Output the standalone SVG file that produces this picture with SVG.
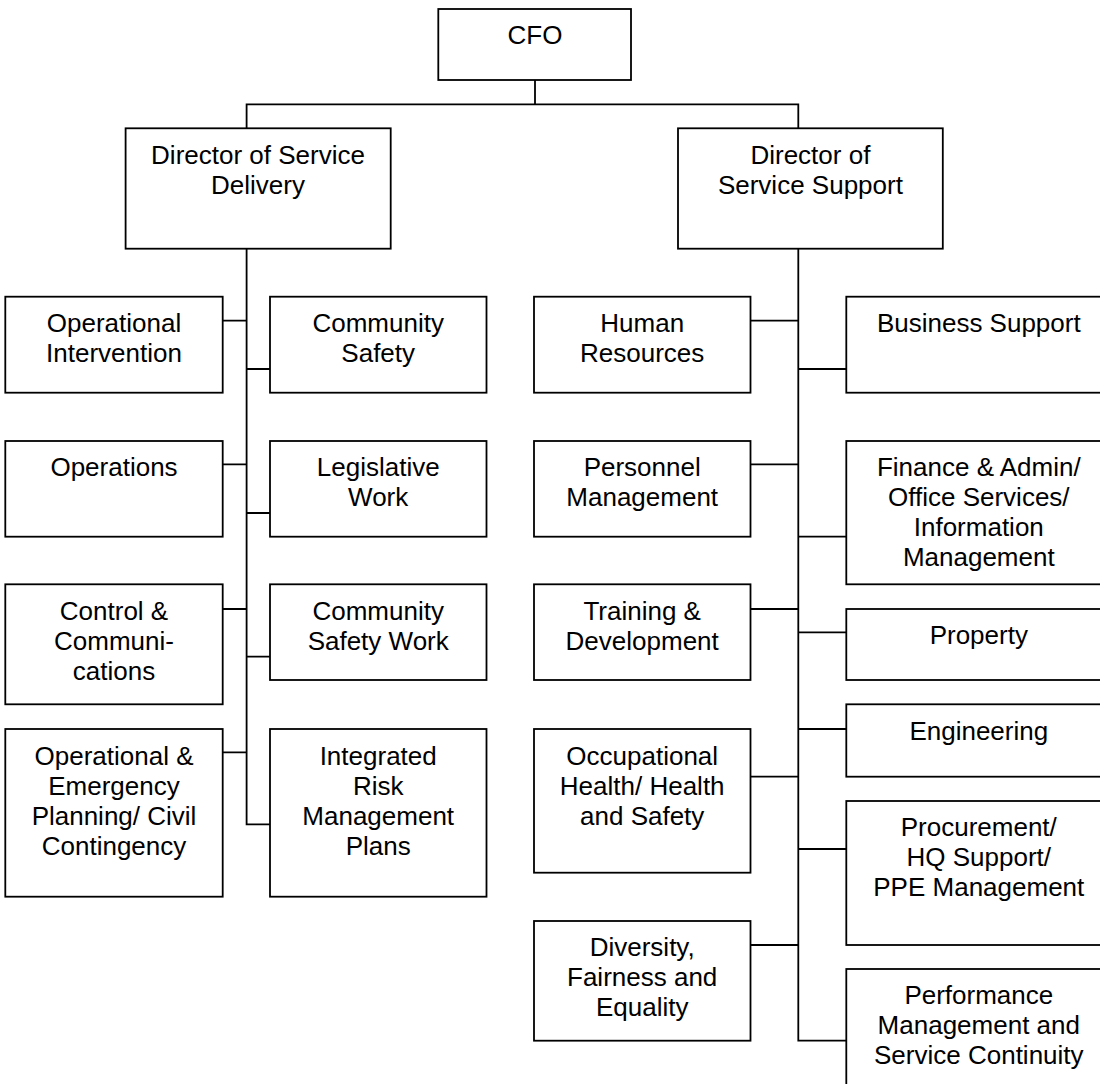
<svg xmlns="http://www.w3.org/2000/svg" width="1100" height="1084" viewBox="0 0 1100 1084">
<style>
.box{fill:#fff;stroke:#000;stroke-width:1.8}
.lbl{font-family:"Liberation Sans",Arial,sans-serif;font-size:26px;fill:#000;text-anchor:middle}
.con{fill:none;stroke:#000;stroke-width:1.8;stroke-linejoin:miter;stroke-linecap:square}
</style>
<rect width="1100" height="1084" fill="#fff"/>
<g id="connectors">
<path class="con" d="M535,80 V104.3 M246.6,128.3 V104.3 H798.3 V128.3"/>
<path class="con" d="M246.6,248.7 V824.3 H270 M222.7,320.7 H246.6 M246.6,369 H270 M222.7,464.3 H246.6 M246.6,513 H270 M222.7,609 H246.6 M246.6,656.7 H270 M222.7,752.3 H246.6"/>
<path class="con" d="M798.3,248.7 V1040.7 H846.3 M750.5,320.7 H798.3 M798.3,369 H846.3 M750.5,464.3 H798.3 M798.3,536.7 H846.3 M750.5,609 H798.3 M798.3,632.3 H846.3 M798.3,729 H846.3 M750.5,776.7 H798.3 M798.3,849 H846.3 M750.5,945 H798.3"/>
</g>
<g id="cfo"><rect class="box" x="438.3" y="9" width="192.7" height="71"/><text class="lbl" x="535" y="43.5">CFO</text></g>
<g id="dsd"><rect class="box" x="125.6" y="128.3" width="265.1" height="120.4"/><text class="lbl" x="258" y="164"><tspan x="258">Director of Service</tspan><tspan x="258" dy="30">Delivery</tspan></text></g>
<g id="dss"><rect class="box" x="678" y="128.3" width="264.8" height="120.4"/><text class="lbl" x="810.4" y="164"><tspan x="810.4">Director of</tspan><tspan x="810.4" dy="30">Service Support</tspan></text></g>

<g id="op-intervention"><rect class="box" x="5.3" y="296.7" width="217.4" height="96"/><text class="lbl" y="332"><tspan x="114">Operational</tspan><tspan x="114" dy="30">Intervention</tspan></text></g>
<g id="operations"><rect class="box" x="5.3" y="441" width="217.4" height="95.7"/><text class="lbl" y="476"><tspan x="114">Operations</tspan></text></g>
<g id="control-comms"><rect class="box" x="5.3" y="584.3" width="217.4" height="120"/><text class="lbl" y="619.5"><tspan x="114">Control &amp;</tspan><tspan x="114" dy="30">Communi-</tspan><tspan x="114" dy="30">cations</tspan></text></g>
<g id="op-emergency"><rect class="box" x="5.3" y="729" width="217.4" height="167.7"/><text class="lbl" y="764.5"><tspan x="114">Operational &amp;</tspan><tspan x="114" dy="30">Emergency</tspan><tspan x="114" dy="30">Planning/ Civil</tspan><tspan x="114" dy="30">Contingency</tspan></text></g>

<g id="community-safety"><rect class="box" x="270" y="296.7" width="216.5" height="96"/><text class="lbl" y="332"><tspan x="378.2">Community</tspan><tspan x="378.2" dy="30">Safety</tspan></text></g>
<g id="legislative-work"><rect class="box" x="270" y="441" width="216.5" height="95.7"/><text class="lbl" y="476"><tspan x="378.2">Legislative</tspan><tspan x="378.2" dy="30">Work</tspan></text></g>
<g id="community-safety-work"><rect class="box" x="270" y="584.3" width="216.5" height="95.7"/><text class="lbl" y="619.5"><tspan x="378.2">Community</tspan><tspan x="378.2" dy="30">Safety Work</tspan></text></g>
<g id="irmp"><rect class="box" x="270" y="729" width="216.5" height="167.7"/><text class="lbl" y="764.5"><tspan x="378.2">Integrated</tspan><tspan x="378.2" dy="30">Risk</tspan><tspan x="378.2" dy="30">Management</tspan><tspan x="378.2" dy="30">Plans</tspan></text></g>

<g id="human-resources"><rect class="box" x="534" y="296.7" width="216.5" height="96"/><text class="lbl" y="332"><tspan x="642.2">Human</tspan><tspan x="642.2" dy="30">Resources</tspan></text></g>
<g id="personnel-management"><rect class="box" x="534" y="441" width="216.5" height="95.7"/><text class="lbl" y="476"><tspan x="642.2">Personnel</tspan><tspan x="642.2" dy="30">Management</tspan></text></g>
<g id="training-development"><rect class="box" x="534" y="584.3" width="216.5" height="95.7"/><text class="lbl" y="619.5"><tspan x="642.2">Training &amp;</tspan><tspan x="642.2" dy="30">Development</tspan></text></g>
<g id="occupational-health"><rect class="box" x="534" y="729" width="216.5" height="143.7"/><text class="lbl" y="764.5"><tspan x="642.2">Occupational</tspan><tspan x="642.2" dy="30">Health/ Health</tspan><tspan x="642.2" dy="30">and Safety</tspan></text></g>
<g id="diversity"><rect class="box" x="534" y="921" width="216.5" height="119.7"/><text class="lbl" y="956"><tspan x="642.2">Diversity,</tspan><tspan x="642.2" dy="30">Fairness and</tspan><tspan x="642.2" dy="30">Equality</tspan></text></g>

<g id="business-support"><rect class="box" x="846.3" y="296.7" width="265" height="96"/><text class="lbl" y="331.5"><tspan x="978.8">Business Support</tspan></text></g>
<g id="finance-admin"><rect class="box" x="846.3" y="441" width="265" height="143.3"/><text class="lbl" y="476"><tspan x="978.8">Finance &amp; Admin/</tspan><tspan x="978.8" dy="30">Office Services/</tspan><tspan x="978.8" dy="30">Information</tspan><tspan x="978.8" dy="30">Management</tspan></text></g>
<g id="property"><rect class="box" x="846.3" y="609" width="265" height="71"/><text class="lbl" y="643.5"><tspan x="978.8">Property</tspan></text></g>
<g id="engineering"><rect class="box" x="846.3" y="704.3" width="265" height="72.4"/><text class="lbl" y="739.5"><tspan x="978.8">Engineering</tspan></text></g>
<g id="procurement"><rect class="box" x="846.3" y="801" width="265" height="144"/><text class="lbl" y="836"><tspan x="978.8">Procurement/</tspan><tspan x="978.8" dy="30">HQ Support/</tspan><tspan x="978.8" dy="30">PPE Management</tspan></text></g>
<g id="performance"><rect class="box" x="846.3" y="969" width="265" height="130"/><text class="lbl" y="1004"><tspan x="978.8">Performance</tspan><tspan x="978.8" dy="30">Management and</tspan><tspan x="978.8" dy="30">Service Continuity</tspan></text></g>
</svg>
